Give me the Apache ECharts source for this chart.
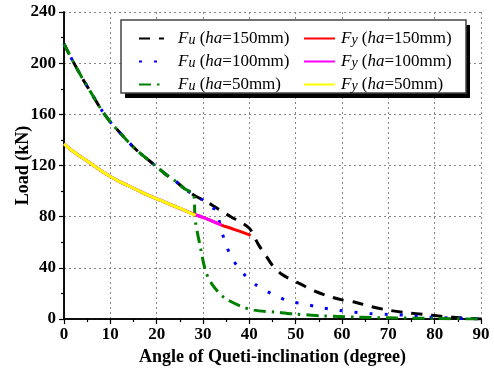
<!DOCTYPE html>
<html><head><meta charset="utf-8">
<script src="https://cdn.jsdelivr.net/npm/echarts@6/dist/echarts.min.js"></script>
<style>html,body{margin:0;padding:0;background:#fff}#c{width:494px;height:371px}</style>
</head><body><div id="c"></div>
<script>
// ---- data (angle in degree, load in kN) ----
const fu150Angle = [0,2,4,6,8,10,12,14,16,18,20,22,24,26,28,30,32,34,36,38,40,41,42,43.5,45,47,49,51,54,57,60,63,66,70,74,78,82,86,90];
const fu150Load  = [215,201,188,176,164,154,146,138,131,125,119,113,108,102,97,93,89,84.5,80,76,71,65,58,50,42,35,31,27.5,22,18,15,13,10,7,5,3.6,2,0.8,0];

const fu100Angle = [0,2,4,6,8,10,12,14,16,18,20,22,24,26,28,30,32,33,33.7,34.8,36.2,38.6,41.7,45.3,48.6,52.2,55.4,59,62.3,66,70,73.7,77,80,84,87,90];
const fu100Load  = [215,201,188,176,164,154,146,138,131,125,119,113,108,102,97,93,87,85,73,60,48,36,26,19,14,11.5,9,7,5.5,4.4,3.6,3,2,1.3,0.8,0.4,0];

const fu50Angle = [0,2,4,6,8,10,12,14,16,18,20,22,24,26,28,28.3,29.5,30.6,32,34.5,38.2,41,45.4,49.7,56,63,70,80,90];
const fu50Load  = [215,201,188,176,164,154,146,138,131,125,119,113,108,102,97,78,55,37,27,17,10,7,5.5,4,2.5,1.5,1,0.5,0];

const fy150Angle = [0,2,4,6,8,10,12,14,16,18,20,22,24,26,28,30,32,34,36,38,40.3];
const fy150Load  = [137,131,126,121,116,111.5,107.5,104,100.5,97,94,91,88,85,82,79.5,76.5,73.5,71,68.5,65.5];

const fy100Angle = [0,2,4,6,8,10,12,14,16,18,20,22,24,26,28,30,32,34];
const fy100Load  = [137,131,126,121,116,111.5,107.5,104,100.5,97,94,91,88,85,82,79.5,76.5,73.5];

const fy50Angle = [0,2,4,6,8,10,12,14,16,18,20,22,24,26,28.4];
const fy50Load  = [137,131,126,121,116,111.5,107.5,104,100.5,97,94,91,88,85,81];

const xTicks = [0,10,20,30,40,50,60,70,80,90];
const yTicks = [0,40,80,120,160,200,240];

const xTitle = 'Angle of Queti-inclination (degree)';
const yTitle = 'Load (kN)';
const names = ['Fu (ha=150mm)','Fu (ha=100mm)','Fu (ha=50mm)','Fy (ha=150mm)','Fy (ha=100mm)','Fy (ha=50mm)'];
const legendRich = {
  'Fu (ha=150mm)':'{f|F}{s|u} ({f|ha}=150mm)',
  'Fu (ha=100mm)':'{f|F}{s|u} ({f|ha}=100mm)',
  'Fu (ha=50mm)':'{f|F}{s|u} ({f|ha}=50mm)',
  'Fy (ha=150mm)':'{f|F}{s|y} ({f|ha}=150mm)',
  'Fy (ha=100mm)':'{f|F}{s|y} ({f|ha}=100mm)',
  'Fy (ha=50mm)':'{f|F}{s|y} ({f|ha}=50mm)'
};

const FONT = 'Liberation Serif';
const pairs = (a, b) => a.map((x, i) => [x, b[i]]);

const chart = echarts.init(document.getElementById('c'), null, {renderer:'canvas'});

function line(name, a, b, color, type, width) {
  return {
    name, type:'line', data: pairs(a, b), symbol:'none', showSymbol:false,
    smooth: 0.3, xAxisIndex:0, yAxisIndex:0,
    lineStyle:{color, width, type, cap:'butt'}, itemStyle:{color},
    animation:false
  };
}

const legendText = {
  fontFamily: FONT, fontSize: 17, color:'#000', lineHeight: 17,
  rich: {
    f:{fontFamily:FONT, fontSize:17, fontStyle:'italic', color:'#000', lineHeight:17},
    s:{fontFamily:FONT, fontSize:14, fontStyle:'italic', color:'#000', lineHeight:14, verticalAlign:'bottom'}
  }
};

const option = {
  backgroundColor:'#fff',
  animation:false,
  grid:{left:64, right:13, top:12, bottom:51, show:false},
  xAxis:[{
    type:'value', min:0, max:90, interval:10, position:'bottom',
    name:xTitle, nameLocation:'middle', nameGap:28,
    nameTextStyle:{fontFamily:FONT, fontSize:18, fontWeight:'bold', color:'#000'},
    axisLine:{show:true, lineStyle:{color:'#000', width:1.5}},
    axisTick:{show:true, inside:false, length:5, lineStyle:{color:'#000', width:1.2}},
    minorTick:{show:true, splitNumber:2, length:3, lineStyle:{color:'#000', width:1.2}},
    axisLabel:{fontFamily:FONT, fontSize:17, fontWeight:'bold', color:'#000', margin:7,
      formatter:v => xTicks.includes(v) ? String(v) : ''},
    splitLine:{show:true, lineStyle:{color:'#888', type:[2,3], width:1}}
  },{
    type:'value', min:0, max:90, interval:5, position:'top',
    axisLine:{show:true, lineStyle:{color:'#000', width:1.5}},
    axisTick:{show:true, inside:true, length:2, lineStyle:{color:'#000'}},
    axisLabel:{show:false}, splitLine:{show:false}
  }],
  yAxis:[{
    type:'value', min:0, max:240, interval:40, position:'left',
    name:yTitle, nameLocation:'middle', nameGap:32, nameRotate:90, nameMoveOverlap:false,
    nameTextStyle:{fontFamily:FONT, fontSize:18, fontWeight:'bold', color:'#000'},
    axisLine:{show:true, lineStyle:{color:'#000', width:1.5}},
    axisTick:{show:true, inside:false, length:5, lineStyle:{color:'#000', width:1.2}},
    minorTick:{show:true, splitNumber:2, length:3, lineStyle:{color:'#000', width:1.2}},
    axisLabel:{fontFamily:FONT, fontSize:17, fontWeight:'bold', color:'#000', margin:8,
      formatter:v => yTicks.includes(v) ? String(v) : ''},
    splitLine:{show:true, lineStyle:{color:'#888', type:[2,3], width:1}}
  },{
    type:'value', min:0, max:240, interval:20, position:'right',
    axisLine:{show:true, lineStyle:{color:'#000', width:1.5}},
    axisTick:{show:true, inside:true, length:3, lineStyle:{color:'#000'}},
    axisLabel:{show:false}, splitLine:{show:false}
  }],
  graphic:[
    {type:'rect', z:3, shape:{x:125, y:25, width:345, height:73}, style:{fill:'#000'}},
    {type:'rect', z:3, shape:{x:121, y:20, width:345, height:73}, style:{fill:'#fff', stroke:'#444', lineWidth:1.5}}
  ],
  legend:[{
    orient:'vertical', left:133, top:25, itemWidth:25, itemHeight:14, itemGap:6,
    data:names.slice(0,3), itemStyle:{opacity:0},
    formatter:n => legendRich[n], textStyle:Object.assign({padding:[0,0,0,9]}, legendText),
    z:5
  },{
    orient:'vertical', left:298, top:25, itemWidth:31, itemHeight:14, itemGap:6,
    data:names.slice(3), itemStyle:{opacity:0},
    formatter:n => legendRich[n], textStyle:Object.assign({padding:[0,0,0,1]}, legendText),
    z:5
  }],
  series:[
    line(names[0], fu150Angle, fu150Load, '#000000', [11,9], 3),
    line(names[1], fu100Angle, fu100Load, '#0000ff', [3,12], 3),
    line(names[2], fu50Angle, fu50Load, '#008000', [12,6,2.5,6], 3),
    line(names[3], fy150Angle, fy150Load, '#ff0000', 'solid', 3),
    line(names[4], fy100Angle, fy100Load, '#ff00ff', 'solid', 3),
    line(names[5], fy50Angle, fy50Load, '#ffff00', 'solid', 3)
  ]
};
chart.setOption(option);
</script></body></html>
